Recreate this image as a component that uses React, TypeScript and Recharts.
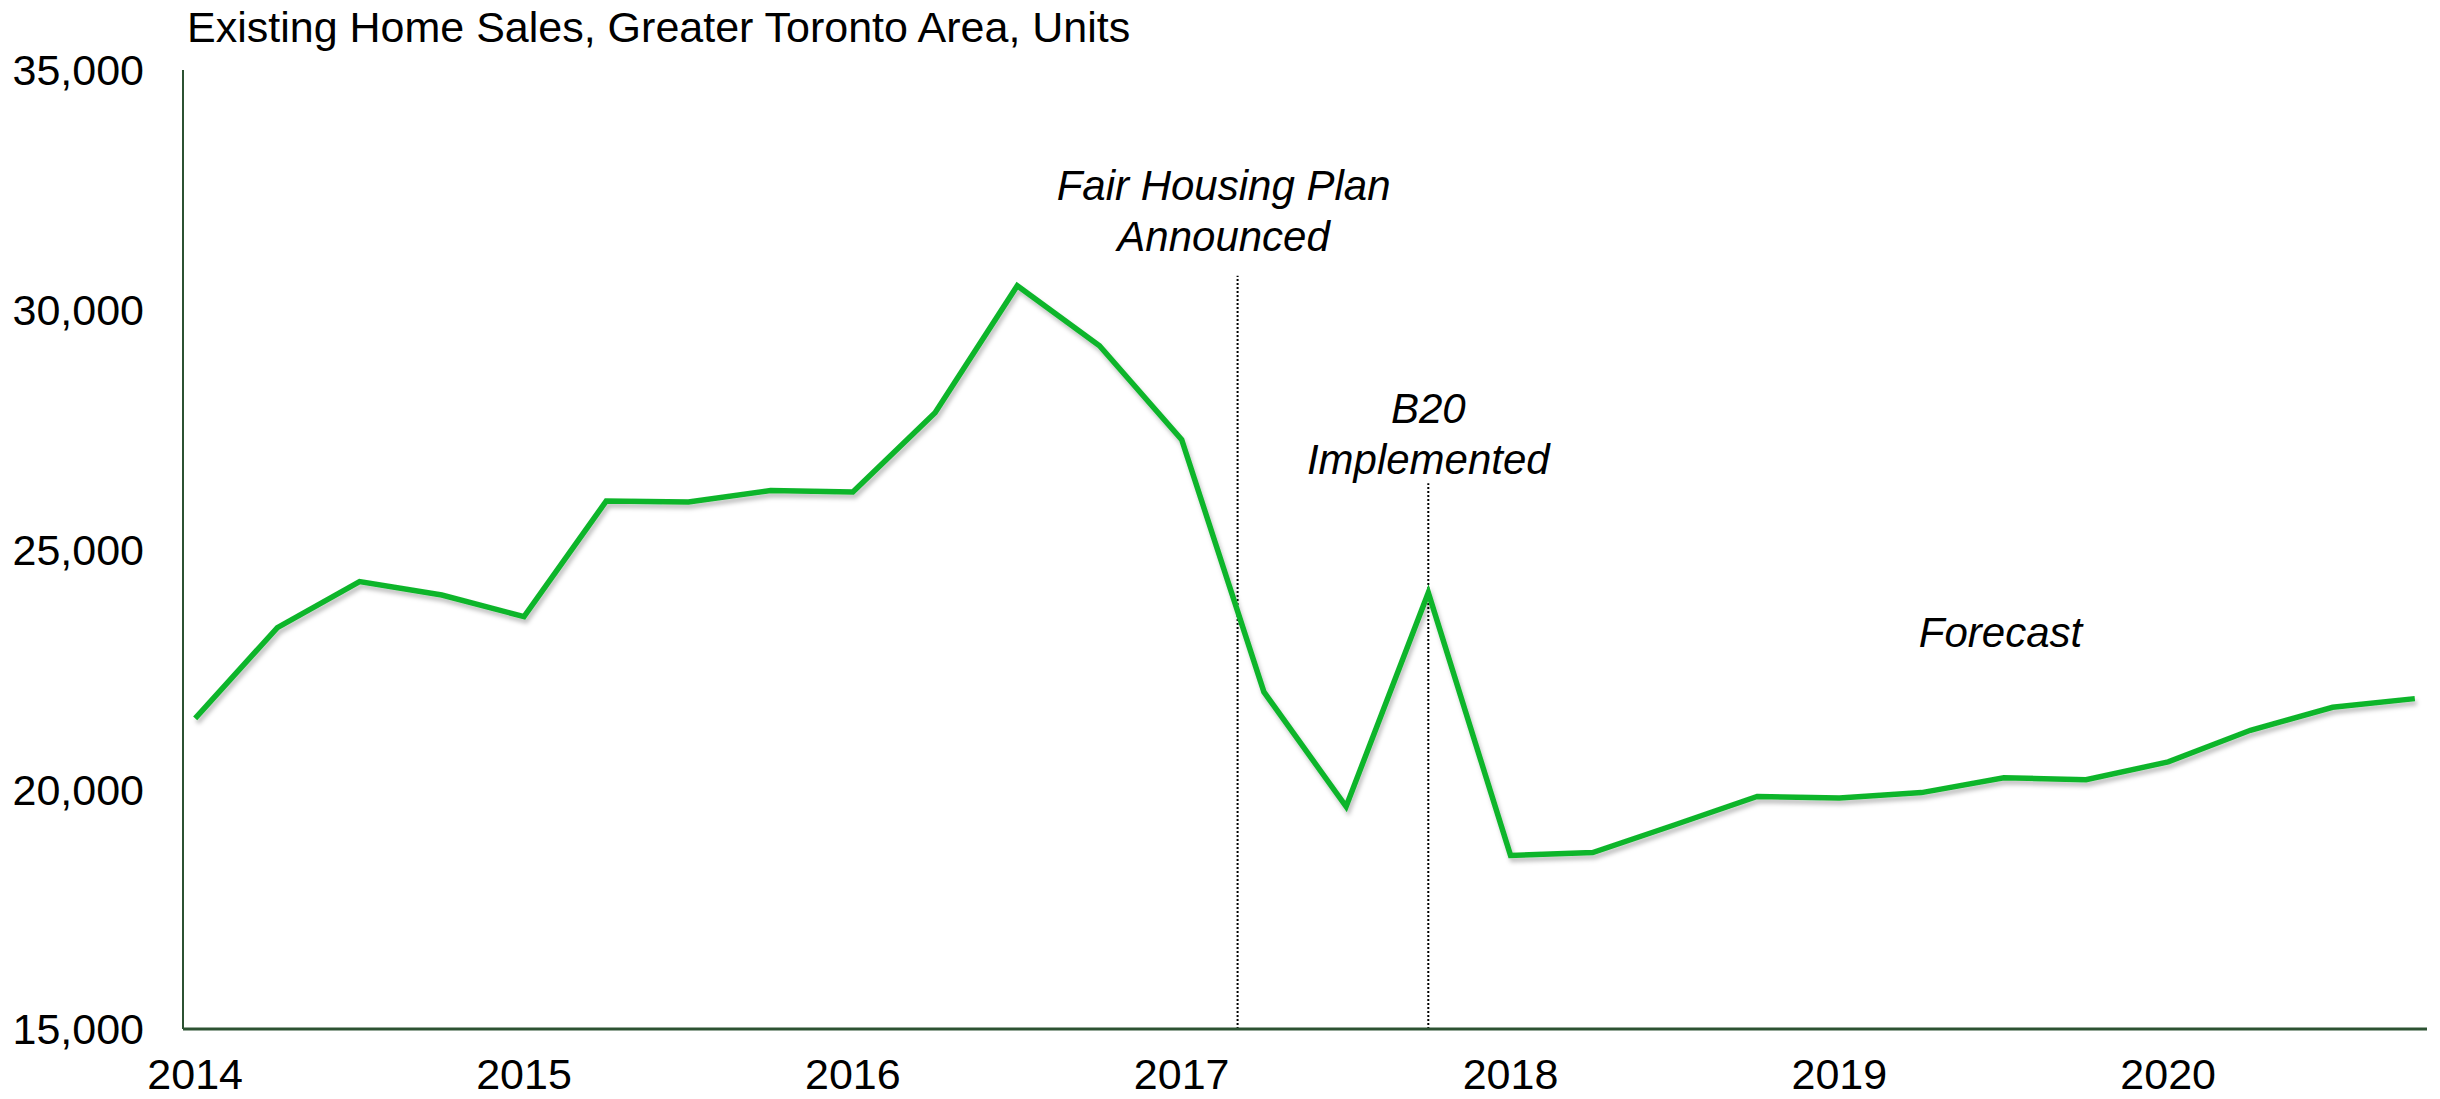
import React from "react";
import { LineChart, Line, XAxis, YAxis, ReferenceLine, ReferenceDot } from "recharts";

const FONT = '"Liberation Sans", Arial, Helvetica, sans-serif';

// quarterly existing home sales, GTA
const quarters = [
  "2014Q1", "2014Q2", "2014Q3", "2014Q4",
  "2015Q1", "2015Q2", "2015Q3", "2015Q4",
  "2016Q1", "2016Q2", "2016Q3", "2016Q4",
  "2017Q1", "2017Q2", "2017Q3", "2017Q4",
  "2018Q1", "2018Q2", "2018Q3", "2018Q4",
  "2019Q1", "2019Q2", "2019Q3", "2019Q4",
  "2020Q1", "2020Q2", "2020Q3", "2020Q4",
];
const sales = [
  21480, 23370, 24330, 24050,
  23600, 26010, 25990, 26230,
  26200, 27850, 30500, 29250,
  27290, 22030, 19640, 24100,
  18620, 18680, 19260, 19850,
  19820, 19930, 20240, 20200,
  20570, 21230, 21710, 21890,
];
const yearTicks = [2014, 2015, 2016, 2017, 2018, 2019, 2020];
const salesTicks = [15000, 20000, 25000, 30000, 35000];

// annotation positions (x in years, y in units)
const fairHousingX = 2017.17;
const fairHousingTop = 30710;
const b20X = 2017.75;
const b20Top = 26380;
const forecastX = 2019.49;
const forecastY = 23270;

const data = quarters.map((q, i) => ({
  t: Number(q.slice(0, 4)) + (Number(q.slice(5)) - 1) / 4,
  sales: sales[i],
}));

const axisColor = "#2c5232";

// text stacked above a point: lift = distance from anchor up to last baseline
function Note({ viewBox, lines, dx = 0, lift = 0, center = false }: any) {
  if (!viewBox) return null;
  const cx = viewBox.x + (viewBox.width || 0) / 2 + dx;
  const anchorY = center ? viewBox.y + (viewBox.height || 0) / 2 : viewBox.y;
  const base = anchorY - lift;
  return (
    <g>
      {lines.map((s: string, i: number) => (
        <text
          key={i}
          x={cx}
          y={base - (lines.length - 1 - i) * 51}
          textAnchor="middle"
          fontStyle="italic"
          fontSize={42}
          fontFamily={FONT}
          fill="#000"
        >
          {s}
        </text>
      ))}
    </g>
  );
}

export default function App() {
  return (
    <div
      style={{
        position: "absolute",
        left: 0,
        top: 0,
        width: 2440,
        height: 1099,
        background: "#fff",
        fontFamily: FONT,
      }}
    >
      <div
        style={{
          position: "absolute",
          left: 187,
          top: 6,
          fontSize: 43,
          lineHeight: "43px",
          color: "#000",
          whiteSpace: "nowrap",
        }}
      >
        Existing Home Sales, Greater Toronto Area, Units
      </div>
      <LineChart
        width={2440}
        height={1099}
        data={data}
        margin={{ top: 70, right: 13, bottom: 40, left: 0 }}
      >
        <defs>
          <filter id="lineShadow" x="-5%" y="-5%" width="110%" height="120%">
            <feDropShadow dx="2" dy="4" stdDeviation="2" floodColor="#000" floodOpacity="0.25" />
          </filter>
        </defs>
        <XAxis
          type="number"
          dataKey="t"
          domain={[2013.963, 2020.787]}
          ticks={yearTicks}
          allowDataOverflow
          height={30}
          tickSize={0}
          tickMargin={29}
          axisLine={{ stroke: axisColor, strokeWidth: 3 }}
          tickLine={false}
          tick={{ fill: "#000", fontSize: 43, fontFamily: FONT }}
        />
        <YAxis
          type="number"
          domain={[15000, 35000]}
          ticks={salesTicks}
          width={183}
          tickSize={0}
          tickMargin={39}
          axisLine={{ stroke: axisColor, strokeWidth: 2 }}
          tickLine={false}
          tick={{ fill: "#000", fontSize: 43, fontFamily: FONT }}
          tickFormatter={(v: number) => v.toLocaleString("en-US")}
        />
        <ReferenceLine
          segment={[
            { x: fairHousingX, y: 15000 },
            { x: fairHousingX, y: fairHousingTop },
          ]}
          stroke="#000"
          strokeWidth={2}
          strokeDasharray="2 2"
          label={<Note lines={["Fair Housing Plan", "Announced"]} dx={-14} lift={25} />}
        />
        <ReferenceLine
          segment={[
            { x: b20X, y: 15000 },
            { x: b20X, y: b20Top },
          ]}
          stroke="#000"
          strokeWidth={2}
          strokeDasharray="2 2"
          label={<Note lines={["B20", "Implemented"]} dx={0} lift={9} />}
        />
        <Line
          type="linear"
          dataKey="sales"
          stroke="#10b52c"
          strokeWidth={5.5}
          dot={false}
          activeDot={false}
          filter="url(#lineShadow)"
          isAnimationActive={false}
        />
        <ReferenceDot
          x={forecastX}
          y={forecastY}
          r={0}
          fill="none"
          stroke="none"
          label={<Note lines={["Forecast"]} lift={-15} center />}
        />
      </LineChart>
    </div>
  );
}
